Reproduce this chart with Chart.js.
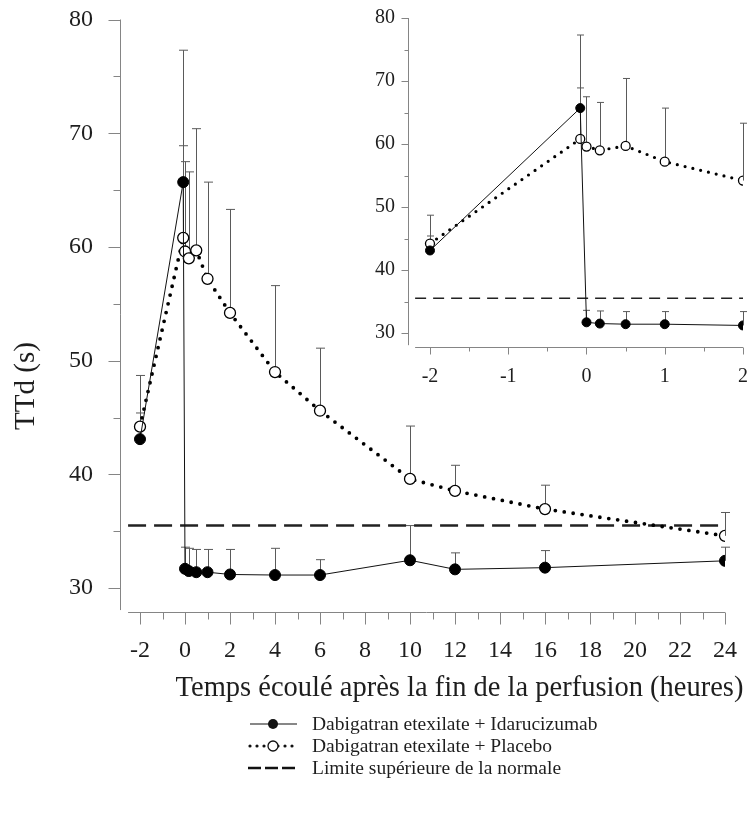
<!DOCTYPE html>
<html>
<head>
<meta charset="utf-8">
<script src="https://cdn.jsdelivr.net/npm/chart.js@4/dist/chart.umd.min.js"></script>
<style>
  html, body { margin: 0; padding: 0; background: #fff; }
  #wrap { position: relative; width: 756px; height: 829px; }
  #mainChart { position: absolute; left: 0; top: 0; }
  #insetChart { position: absolute; left: 360px; top: 0; }
</style>
</head>
<body>
<div id="wrap">
  <canvas id="mainChart" width="756" height="829"></canvas>
  <canvas id="insetChart" width="396" height="400"></canvas>
</div>
<script>
// temps (heures) et TTd moyen (s) + borne supérieure des barres d'erreur
const heures = [-2, -0.08, 0, 0.17, 0.5, 1, 2, 4, 6, 10, 12, 16, 24];
const idarucizumab = [43.1, 65.7, 31.7, 31.5, 31.4, 31.4, 31.2, 31.15, 31.15, 32.45, 31.65, 31.8, 32.4];
const idarucizumabSup = [45.4, 77.3, 33.6, 33.5, 33.4, 33.4, 33.4, 33.5, 32.5, 35.5, 33.1, 33.3, 33.6];
const placebo = [44.2, 60.8, 59.6, 59.0, 59.7, 57.2, 54.2, 49.0, 45.6, 39.6, 38.55, 36.95, 34.6];
const placeboSup = [48.7, 68.9, 67.5, 66.6, 70.4, 65.7, 63.3, 56.6, 51.1, 44.25, 40.8, 39.05, 36.65];
const limiteNormale = 35.5;

const xTicks = [-2, 0, 2, 4, 6, 8, 10, 12, 14, 16, 18, 20, 22, 24];
const xMinor = [-1, 1, 3, 5, 7, 9, 11, 13, 15, 17, 19, 21, 23];
const yTicks = [30, 40, 50, 60, 70, 80];
const yMinor = [35, 45, 55, 65, 75];
const insetXTicks = [-2, -1, 0, 1, 2];
const insetXMinor = [-1.5, -0.5, 0.5, 1.5];

const legendLabels = [
  "Dabigatran etexilate + Idarucizumab",
  "Dabigatran etexilate + Placebo",
  "Limite supérieure de la normale"
];
const xTitle = "Temps écoulé après la fin de la perfusion (heures)";
const yTitle = "TTd (s)";

const SERIF = "'Liberation Serif', 'Times New Roman', serif";
const AXIS = "#858585";
const TEXT = "#1e1e1e";

const pts = (vals, maxX) => heures
  .map((x, i) => ({ x, y: vals[i] }))
  .filter(p => p.x <= maxX);
const sub = (vals, maxX) => vals.filter((v, i) => heures[i] <= maxX);

const decor = {
  id: "decor",
  beforeDatasetsDraw(chart, args, o) {
    const { ctx, chartArea } = chart;
    const x = chart.scales.x, y = chart.scales.y;
    ctx.save();
    ctx.strokeStyle = AXIS;
    ctx.lineWidth = 1;
    ctx.beginPath();
    const ax = Math.round(chartArea.left) + 0.5;
    ctx.moveTo(ax, y.getPixelForValue(y.max));
    ctx.lineTo(ax, y.getPixelForValue(o.yStart));
    yTicks.forEach(v => {
      const p = Math.round(y.getPixelForValue(v)) + 0.5;
      ctx.moveTo(ax - o.major, p); ctx.lineTo(ax, p);
    });
    yMinor.forEach(v => {
      const p = Math.round(y.getPixelForValue(v)) + 0.5;
      ctx.moveTo(ax - o.minor, p); ctx.lineTo(ax, p);
    });
    const ay = Math.round(chartArea.bottom) + 0.5;
    ctx.moveTo(x.getPixelForValue(o.xStart), ay);
    ctx.lineTo(x.getPixelForValue(x.max), ay);
    o.xMajor.forEach(v => {
      const p = Math.round(x.getPixelForValue(v)) + 0.5;
      ctx.moveTo(p, ay); ctx.lineTo(p, ay + o.major);
    });
    o.xMinor.forEach(v => {
      const p = Math.round(x.getPixelForValue(v)) + 0.5;
      ctx.moveTo(p, ay); ctx.lineTo(p, ay + o.minor);
    });
    ctx.stroke();

    // barres d'erreur (vers le haut seulement)
    ctx.strokeStyle = "#5a5a5a";
    ctx.beginPath();
    o.errors.forEach(e => {
      chart.data.datasets[e.dataset].data.forEach((d, i) => {
        const px = Math.round(x.getPixelForValue(d.x)) + 0.5;
        const top = y.getPixelForValue(e.upper[i]);
        ctx.moveTo(px, y.getPixelForValue(d.y));
        ctx.lineTo(px, top);
        ctx.moveTo(px - o.cap, top);
        ctx.lineTo(px + o.cap, top);
      });
    });
    ctx.stroke();
    ctx.restore();
  },
  afterDraw(chart, args, o) {
    if (!o.titles) return;
    const { ctx } = chart;
    ctx.save();
    ctx.fillStyle = TEXT;
    ctx.textBaseline = "middle";
    ctx.textAlign = "center";
    ctx.font = "28.5px " + SERIF;
    ctx.fillText(xTitle, 459.5, 689);
    ctx.save();
    ctx.translate(26, 386);
    ctx.rotate(-Math.PI / 2);
    ctx.font = "29px " + SERIF;
    ctx.fillText(yTitle, 0, 0);
    ctx.restore();

    // légende
    const rows = [724, 746, 768];
    const x0 = 250, x1 = 297, xm = 273;
    ctx.strokeStyle = "#111";
    ctx.fillStyle = "#111";
    ctx.lineWidth = 1.2;
    ctx.beginPath();
    ctx.moveTo(x0, rows[0]); ctx.lineTo(x1, rows[0]);
    ctx.stroke();
    ctx.beginPath();
    ctx.arc(xm, rows[0], 5, 0, Math.PI * 2);
    ctx.fill();

    ctx.save();
    ctx.lineCap = "round";
    ctx.lineWidth = 3.2;
    ctx.setLineDash([0, 7]);
    ctx.beginPath();
    ctx.moveTo(x0, rows[1]); ctx.lineTo(x1, rows[1]);
    ctx.stroke();
    ctx.restore();
    ctx.beginPath();
    ctx.arc(xm, rows[1], 5, 0, Math.PI * 2);
    ctx.fillStyle = "#fff";
    ctx.fill();
    ctx.lineWidth = 1.3;
    ctx.stroke();

    ctx.save();
    ctx.lineWidth = 2.5;
    ctx.setLineDash([13, 4]);
    ctx.beginPath();
    ctx.moveTo(x0 - 2, rows[2]); ctx.lineTo(x1 + 2, rows[2]);
    ctx.stroke();
    ctx.restore();

    ctx.fillStyle = TEXT;
    ctx.textAlign = "left";
    ctx.font = "19.5px " + SERIF;
    legendLabels.forEach((t, i) => ctx.fillText(t, 312, rows[i] + 1));
    ctx.restore();
  }
};

function makeChart(id, cfg) {
  // ticks invisibles : ils ne servent qu'à décaler les libellés
  const hiddenGrid = len => ({
    display: true, drawOnChartArea: false, drawTicks: true,
    tickLength: len, color: "rgba(0,0,0,0)"
  });
  return new Chart(document.getElementById(id), {
    type: "scatter",
    data: {
      datasets: [
        {
          label: legendLabels[0],
          data: pts(idarucizumab, cfg.maxX),
          showLine: true,
          borderColor: "#111",
          borderWidth: 1,
          pointRadius: cfg.r,
          pointBackgroundColor: "#000",
          pointBorderColor: "#000",
          pointBorderWidth: 1
        },
        {
          label: legendLabels[1],
          data: pts(placebo, cfg.maxX),
          showLine: true,
          borderColor: "#000",
          borderWidth: cfg.dot,
          borderDash: [0, cfg.dotGap],
          borderCapStyle: "round",
          pointRadius: cfg.r,
          pointBackgroundColor: "#fff",
          pointBorderColor: "#000",
          pointBorderWidth: 1.3
        },
        {
          label: legendLabels[2],
          data: [{ x: cfg.xStart, y: limiteNormale }, { x: cfg.maxX, y: limiteNormale }],
          showLine: true,
          borderColor: "#222",
          borderWidth: cfg.dashW,
          borderDash: cfg.dash,
          pointRadius: 0
        }
      ]
    },
    options: {
      responsive: false,
      animation: false,
      devicePixelRatio: 1,
      events: [],
      layout: { padding: cfg.padding },
      plugins: {
        legend: { display: false },
        tooltip: { enabled: false },
        decor: {
          xStart: cfg.xStart,
          yStart: 28.07,
          xMajor: cfg.xTicks,
          xMinor: cfg.xMinor,
          major: cfg.major,
          minor: cfg.minor,
          cap: cfg.cap,
          titles: cfg.titles,
          errors: [
            { dataset: 0, upper: sub(idarucizumabSup, cfg.maxX) },
            { dataset: 1, upper: sub(placeboSup, cfg.maxX) }
          ]
        }
      },
      scales: {
        x: {
          type: "linear",
          min: cfg.xMin,
          max: cfg.maxX,
          grid: hiddenGrid(cfg.xPad),
          border: { display: false },
          afterBuildTicks: s => { s.ticks = cfg.xTicks.map(v => ({ value: v })); },
          afterFit: s => { s.height = cfg.xH; },
          ticks: {
            autoSkip: false,
            maxRotation: 0,
            padding: 0,
            color: TEXT,
            font: { family: SERIF, size: cfg.font }
          }
        },
        y: {
          min: cfg.yMin,
          max: 80,
          grid: hiddenGrid(cfg.yPad),
          border: { display: false },
          afterBuildTicks: s => { s.ticks = yTicks.map(v => ({ value: v })); },
          afterFit: s => { s.width = cfg.yW; },
          ticks: {
            padding: 0,
            color: TEXT,
            font: { family: SERIF, size: cfg.font }
          }
        }
      }
    },
    plugins: [decor]
  });
}

makeChart("mainChart", {
  maxX: 24, xMin: -2.889, xStart: -2.53, yMin: 27.9,
  xTicks: xTicks, xMinor: xMinor,
  padding: { left: 0, top: 19.5, right: 31, bottom: 157 },
  xH: 60, yW: 120, xPad: 24, yPad: 27, font: 24,
  r: 5.5, dot: 3.8, dotGap: 9, dashW: 2.5, dash: [18, 8],
  major: 12, minor: 7, cap: 4.5, titles: true
});

makeChart("insetChart", {
  maxX: 2, xMin: -2.281, xStart: -2.19, yMin: 27.78,
  xTicks: insetXTicks, xMinor: insetXMinor,
  padding: { left: 0, top: 18, right: 13, bottom: 8 },
  xH: 45, yW: 48, xPad: 18, yPad: 13, font: 20,
  r: 4.5, dot: 3.2, dotGap: 8, dashW: 1.5, dash: [11, 7],
  major: 7, minor: 4, cap: 3.5, titles: false
});
</script>
</body>
</html>
